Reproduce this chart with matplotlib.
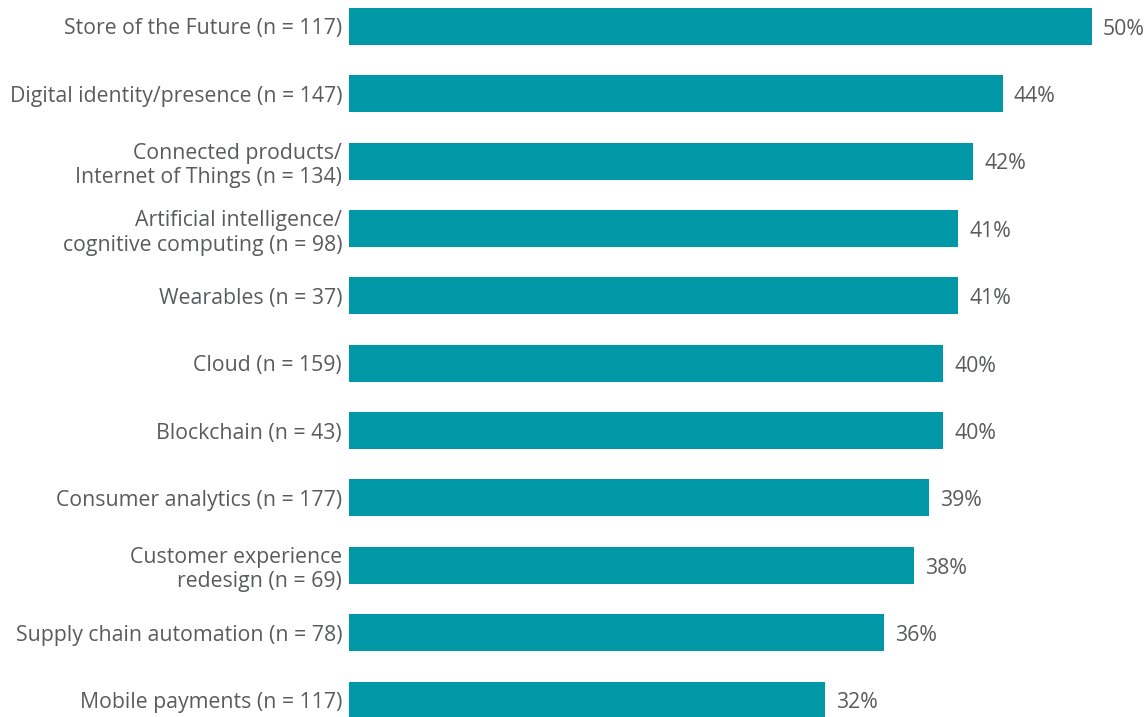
import matplotlib
matplotlib.use("Agg")
import matplotlib.pyplot as plt

plt.rcParams['font.family'] = ['Open Sans', 'DejaVu Sans']

labels = [
    'Store of the Future (n = 117)',
    'Digital identity/presence (n = 147)',
    'Connected products/\nInternet of Things (n = 134)',
    'Artificial intelligence/\ncognitive computing (n = 98)',
    'Wearables (n = 37)',
    'Cloud (n = 159)',
    'Blockchain (n = 43)',
    'Consumer analytics (n = 177)',
    'Customer experience\nredesign (n = 69)',
    'Supply chain automation (n = 78)',
    'Mobile payments (n = 117)',
]
values = [50, 44, 42, 41, 41, 40, 40, 39, 38, 36, 32]

bar_color = '#0097A7'
text_color = '#5A5B5D'

fig = plt.figure(figsize=(11.48, 7.17), dpi=100)
ax = fig.add_axes([349 / 1148, 0, 799 / 1148, 1])

y = list(range(len(values)))
ax.barh(y, values, height=0.55, color=bar_color)

ax.set_xlim(0, 799 / 14.86)
ax.set_ylim(10.252, -0.393)

ax.set_yticks(y)
ax.set_yticklabels(labels, fontsize=15.3, color=text_color, linespacing=1.22)
ax.tick_params(axis='y', length=0, pad=5)
ax.set_xticks([])
for s in ax.spines.values():
    s.set_visible(False)

for yi, v in zip(y, values):
    ax.annotate(f'{v}%', (v, yi), xytext=(8, -2), textcoords='offset points',
                va='center', ha='left', fontsize=15.3, color=text_color)

fig.savefig('out.png', dpi=100)
